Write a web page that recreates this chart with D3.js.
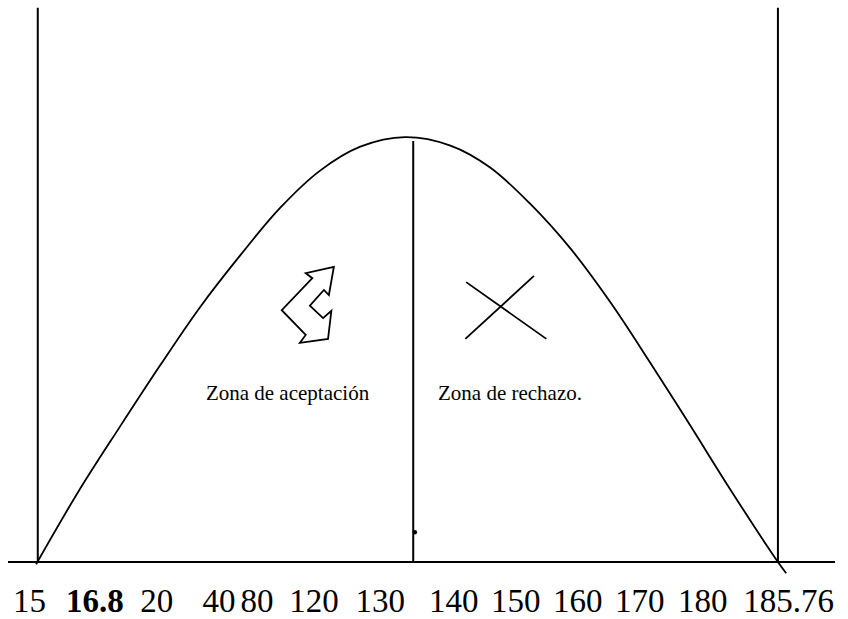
<!DOCTYPE html>
<meta charset="utf-8">
<head>
  <title>Zona de aceptacion / rechazo</title>
  <style>
    body { margin: 0; background: #fff; }
    text { font-family: "Liberation Serif", "Times New Roman", serif; }
  </style>
</head>
<body>
<script src="https://d3js.org/d3.v7.min.js"></script>
<script>

// curve points (x, y) in chart units
const curveX = [3.4, 8.5, 13.5, 18.4, 23.2, 28.1, 32.9, 37.7, 42.6, 48.0, 53.5, 58.3, 63.1, 68.0, 72.8, 77.6, 82.5, 87.3, 93.1, 94.1];
const curveY = [-0.4, 12.5, 24.0, 35.0, 45.3, 54.6, 63.0, 69.6, 73.9, 75.6, 74.1, 70.2, 63.8, 55.8, 46.3, 35.6, 24.3, 13.0, 0, -2.0];

// bounds and split line
const bounds = [3.6, 93.1];
const boundTop = 98.6;
const split = 49.0;
const splitTop = 74.9;
const dot = { x: 49.2, y: 5.3 };

// tick labels along the bottom
const tickLabels = ["15", "16.8", "20", "40", "80", "120", "130", "140", "150", "160", "170", "180", "185.76"];
const tickPos = [2.6, 10.5, 18.0, 25.5, 30.1, 37.0, 45.0, 53.9, 61.4, 68.9, 76.4, 84.0, 94.4];
const tickBold = ["16.8"];

// zone labels
const zones = ["Zona de aceptación", "Zona de rechazo."];
const zonePos = [33.8, 60.7];
const zoneY = 28.8;

// arrow (acceptance) and cross (rejection) marks
const arrowX = [39.4, 36.0, 36.8, 33.1, 36.0, 35.3, 38.7, 39.1, 38.1, 36.5, 38.2, 38.8];
const arrowY = [52.5, 51.4, 50.5, 44.8, 40.4, 39.0, 39.7, 44.7, 43.4, 45.6, 48.4, 47.5];
const crossLines = [
  [[55.4, 49.8], [65.1, 39.7]],
  [[63.6, 50.9], [55.3, 39.7]]
];

const totalWidth = 848, totalHeight = 619,
      margin = {top: 0, right: 13, bottom: 57, left: 8},
      width = totalWidth - margin.left - margin.right,
      height = totalHeight - margin.top - margin.bottom;

const svg = d3.select("body")
  .append("svg")
  .attr("width", totalWidth)
  .attr("height", totalHeight)
  .append("g")
  .attr("transform", "translate(" + margin.left + "," + margin.top + ")");

const x = d3.scaleLinear().domain([0, 100]).range([0, width]);
const y = d3.scaleLinear().domain([0, 100]).range([height, 0]);

const ink = "#000";

// baseline
svg.append("line")
  .attr("x1", x(0)).attr("x2", x(100))
  .attr("y1", y(0)).attr("y2", y(0))
  .style("stroke", ink).style("stroke-width", 2);

// outer bounds
svg.selectAll(".bound")
  .data(bounds)
  .enter().append("line")
  .attr("class", "bound")
  .attr("x1", d => x(d)).attr("x2", d => x(d))
  .attr("y1", y(0)).attr("y2", y(boundTop))
  .style("stroke", ink).style("stroke-width", 2);

// split
svg.append("line")
  .attr("x1", x(split)).attr("x2", x(split))
  .attr("y1", y(0)).attr("y2", y(splitTop))
  .style("stroke", ink).style("stroke-width", 2);

// bell curve
const curvePts = curveX.map((v, i) => [v, curveY[i]]);
svg.append("path")
  .attr("d", d3.line()
    .x(d => x(d[0]))
    .y(d => y(d[1]))
    .curve(d3.curveCatmullRom.alpha(0.5))(curvePts))
  .style("fill", "none")
  .style("stroke", ink)
  .style("stroke-width", 1.8);

// dot
svg.append("circle")
  .attr("cx", x(dot.x)).attr("cy", y(dot.y))
  .attr("r", 2.2)
  .style("fill", ink);

// arrow outline
const arrowPts = arrowX.map((v, i) => [x(v), y(arrowY[i])]);
svg.append("path")
  .attr("d", d3.line()(arrowPts) + "Z")
  .style("fill", "none")
  .style("stroke", ink)
  .style("stroke-width", 1.8)
  .style("stroke-linejoin", "miter");

// cross
svg.selectAll(".cross")
  .data(crossLines)
  .enter().append("line")
  .attr("class", "cross")
  .attr("x1", d => x(d[0][0])).attr("y1", d => y(d[0][1]))
  .attr("x2", d => x(d[1][0])).attr("y2", d => y(d[1][1]))
  .style("stroke", ink).style("stroke-width", 1.8);

// zone text
svg.selectAll(".zone")
  .data(zones)
  .enter().append("text")
  .attr("class", "zone")
  .attr("x", (d, i) => x(zonePos[i]))
  .attr("y", y(zoneY))
  .attr("text-anchor", "middle")
  .style("font-size", "21px")
  .text(d => d);

// tick labels
svg.selectAll(".tick-label")
  .data(tickLabels)
  .enter().append("text")
  .attr("class", "tick-label")
  .attr("x", (d, i) => x(tickPos[i]))
  .attr("y", height + 50)
  .attr("text-anchor", "middle")
  .style("font-size", "33px")
  .style("font-weight", d => tickBold.includes(d) ? "bold" : "normal")
  .text(d => d);

</script>
</body>
</html>
